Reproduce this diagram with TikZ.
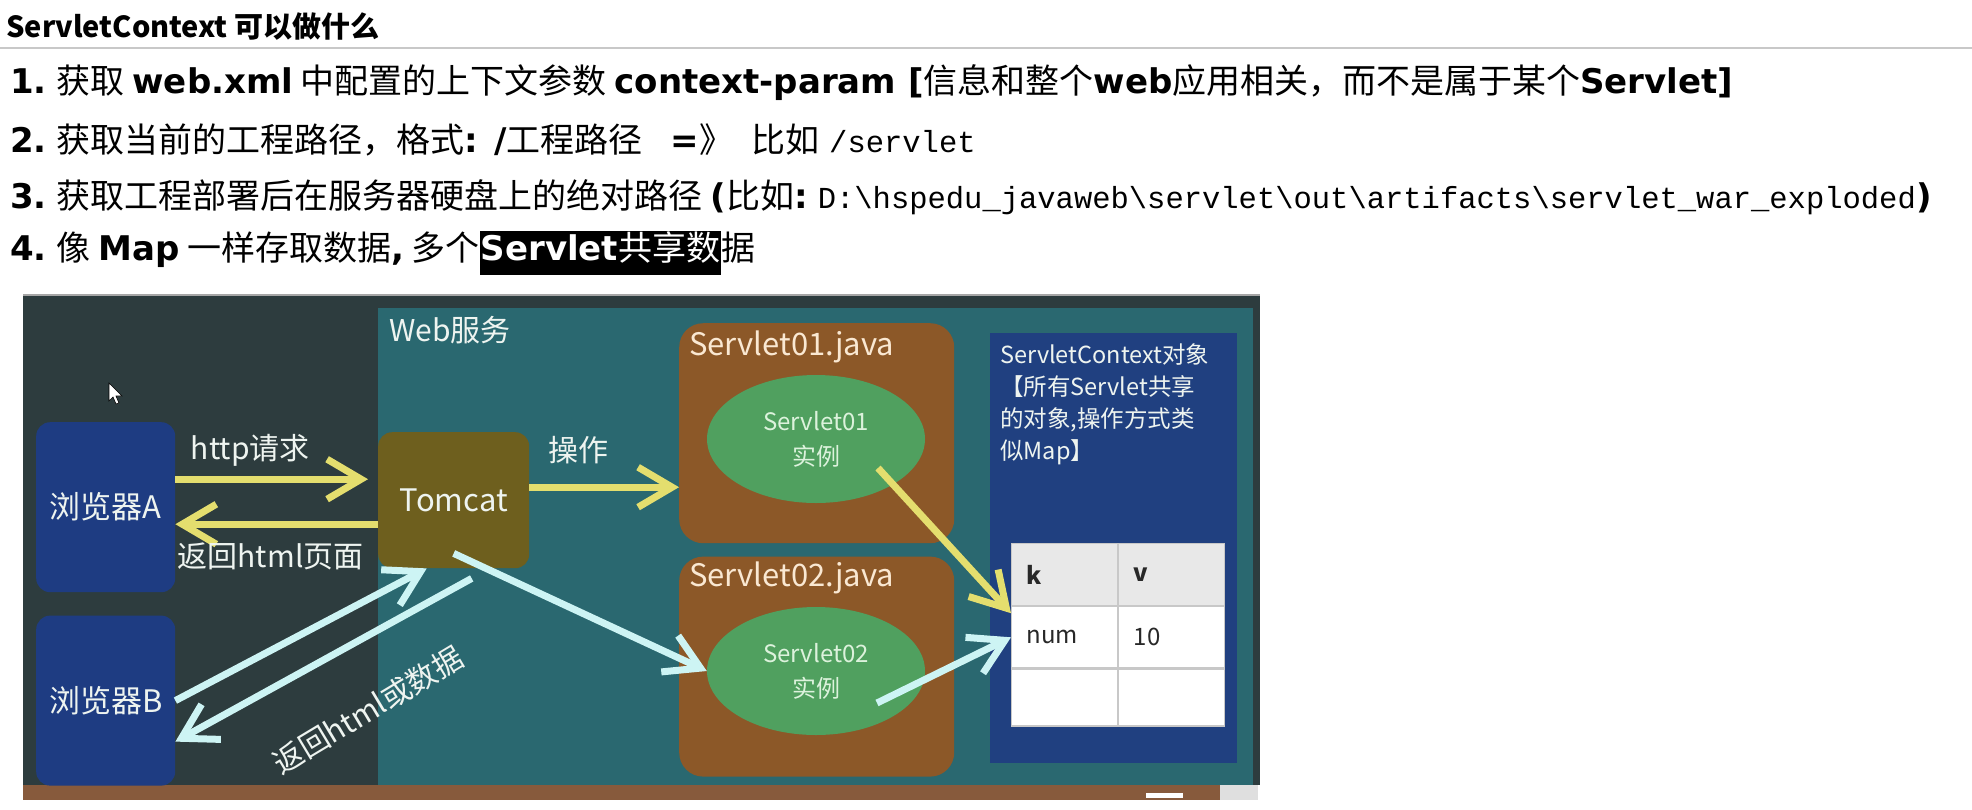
\documentclass[tikz,border=0pt]{standalone}
\usepackage{fontspec}
\setmainfont{Noto Sans CJK SC}
\newfontfamily\engfont{DejaVu Sans}[Scale=1.0]
\newfontfamily\codefont{Liberation Mono}
\usetikzlibrary{positioning,arrows.meta,shapes.geometric}
\definecolor{scBoard}{RGB}{45,60,62}
\definecolor{scTeal}{RGB}{42,104,112}
\definecolor{scClient}{RGB}{30,60,130}
\definecolor{scServer}{RGB}{110,95,30}
\definecolor{scJava}{RGB}{140,88,40}
\definecolor{scInst}{RGB}{80,160,95}
\definecolor{scCtx}{RGB}{32,64,128}
\definecolor{scYellow}{RGB}{228,222,110}
\definecolor{scCyan}{RGB}{205,244,244}
\definecolor{scText}{RGB}{238,244,240}
\definecolor{scPeach}{RGB}{250,232,210}
\definecolor{scMint}{RGB}{220,242,220}
\definecolor{scWood}{RGB}{135,90,60}
\definecolor{scRule}{RGB}{200,200,200}
\definecolor{scHead}{RGB}{232,232,232}
\definecolor{scInk}{RGB}{40,40,40}
\newcommand\latb[1]{{\engfont\bfseries #1}}
\newcommand\bs{\textbackslash}

\begin{document}
\begin{tikzpicture}[
    x=1pt, y=-1pt,
    textline/.style={anchor=west, inner sep=0pt, font=\fontsize{34}{40}\selectfont},
    client/.style={rectangle, rounded corners=14pt, fill=scClient, minimum width=139pt, minimum height=170pt, text=scText, font=\fontsize{31}{36}\selectfont},
    server/.style={rectangle, rounded corners=14pt, fill=scServer, minimum width=151pt, minimum height=136pt, text=scText, font=\fontsize{31}{36}\selectfont},
    javabox/.style={rectangle, rounded corners=24pt, fill=scJava, minimum width=275pt, minimum height=220pt},
    jlabel/.style={inner sep=0pt, text=scPeach, font=\fontsize{31}{36}\selectfont},
    inst/.style={ellipse, fill=scInst, minimum width=218pt, minimum height=128pt, inner sep=0pt, align=center, text=scMint, font=\fontsize{24}{35}\selectfont},
    ctxbox/.style={rectangle, fill=scCtx, minimum width=247pt, minimum height=430pt},
    cell/.style={draw=scRule, line width=1.2pt, fill=white, minimum height=61pt, text width=76pt, inner xsep=15pt, inner ysep=0pt, align=left, text=scInk, font=\fontsize{24}{28}\selectfont},
    note/.style={inner sep=0pt, text=scText, font=\fontsize{30}{34}\selectfont},
    yarrow/.style={draw=scYellow, line width=7pt, -{Straight Barb[length=34pt, width=40pt]}},
    carrow/.style={draw=scCyan, line width=7pt, -{Straight Barb[length=34pt, width=40pt]}}
]
  \fill[white] (0,0) rectangle (1972,809);
  \useasboundingbox (0,0) rectangle (1972,809);

  \node[anchor=west, inner sep=0pt, font=\fontsize{29}{32}\selectfont\bfseries] (title) at (6,27) {ServletContext 可以做什么};
  \draw[scRule, line width=2pt] (0,48) -- (1972,48);

  \node[textline] (l1) at (10,83) {\latb{1.} 获取 \latb{web.xml} 中配置的上下文参数 \latb{context-param [}信息和整个\latb{web}应用相关，而不是属于某个\latb{Servlet]}};
  \node[textline] (l2) at (10,140) {\latb{2.} 获取当前的工程路径，格式\latb{: /}工程路径\hspace{28pt}\latb{=}》\hspace{18pt}比如\hspace{10pt}{\codefont\fontsize{30.5}{36}\selectfont /servlet}};
  \node[textline] (l3) at (10,197) {\latb{3.} 获取工程部署后在服务器硬盘上的绝对路径 \latb{(}比如\latb{:} {\codefont\fontsize{30.5}{36}\selectfont D:\bs hspedu\_javaweb\bs servlet\bs out\bs artifacts\bs servlet\_war\_exploded}\latb{)}};
  \node[textline] (l4) at (10,253) {\latb{4.} 像 \latb{Map} 一样存取数据\latb{,} 多个{\setlength{\fboxsep}{1pt}\colorbox{black}{\rule[-14pt]{0pt}{40pt}\color{white}\latb{Servlet}共享数}}据};

  % board
  \fill[scBoard] (23,295) rectangle (1260,785);
  \draw[gray!70, line width=2pt] (23,295) -- (1260,295);
  \fill[scTeal] (378,308) rectangle (1253,785);
  \fill[scWood] (23,785) rectangle (1220,800);
  \fill[gray!25] (1220,785) rectangle (1258,800);
  \fill[white] (1146,793) rectangle (1183,798);
  \fill[white, draw=black, line width=0.6pt] (109,383) -- (109,401) -- (113,397) -- (116,404) -- (119,403) -- (116,396) -- (122,396) -- cycle;

  \node[note, anchor=west] (web) at (389,330) {Web服务};

  \node[client, anchor=north west] (brA) at (36,422) {浏览器A};
  \node[client, below=23pt of brA] (brB) {浏览器B};
  \node[server, anchor=north west] (tomcat) at (378,432) {Tomcat};

  \node[javabox, anchor=north west] (j1) at (679,323) {};
  \node[jlabel, anchor=west] (j1t) at ([shift={(10pt,-24pt)}]j1.north west) {Servlet01.java};
  \node[inst] (s1) at (816,439) {Servlet01\\实例};
  \node[javabox, below=13pt of j1] (j2) {};
  \node[jlabel, anchor=west] (j2t) at ([shift={(10pt,-22pt)}]j2.north west) {Servlet02.java};
  \node[inst] (s2) at (816,671) {Servlet02\\实例};

  \node[ctxbox, anchor=north west] (ctx) at (990,333) {};
  \node[note, anchor=north west, align=left, font=\fontsize{23.5}{32}\selectfont] (ctxt) at ([shift={(10pt,-10pt)}]ctx.north west) {ServletContext对象\\【所有Servlet共享\\的对象,操作方式类\\似Map】};

  \node[cell, fill=scHead, minimum height=62pt, anchor=north west, font=\fontsize{24}{28}\selectfont\bfseries] (kh) at (1011,543) {k};
  \node[cell, fill=scHead, minimum height=62pt, right=0pt of kh, font=\fontsize{24}{28}\selectfont\bfseries] (vh) {v};
  \node[cell, below=0pt of kh] (kn) {num};
  \node[cell, right=0pt of kn] (vn) {10};
  \node[cell, minimum height=57pt, below=0pt of kn] (ke) {};
  \node[cell, minimum height=57pt, right=0pt of ke] (ve) {};

  \draw[yarrow, shorten >=10pt] ([yshift=21pt]tomcat.west -| brA.east) -- node[note, pos=0.37, yshift=29pt] {http请求} ([yshift=21pt]tomcat.west);
  \draw[yarrow] ([yshift=-24pt]tomcat.west) -- node[note, pos=0.53, yshift=-32pt] {返回html页面} ([yshift=-24pt]tomcat.west -| brA.east);
  \draw[yarrow] ([yshift=13pt]tomcat.east) -- node[note, pos=0.33, yshift=37pt] {操作} ([yshift=13pt]tomcat.east -| j1.west);
  \draw[carrow] (brB.east) -- ([xshift=-27pt]tomcat.south);
  \draw[carrow] ([shift={(18pt,-10pt)}]tomcat.south) -- ([yshift=-41pt]brB.east);
  \node[note, rotate=31] (retB) at (368,710) {返回html或数据};
  \draw[carrow] ([yshift=15pt]tomcat.south) -- (s2.west);
  \draw[yarrow] ([shift={(62pt,-29pt)}]s1.center) -- ([yshift=-7pt]kn.north west);
  \draw[carrow] ([shift={(61pt,-32pt)}]s2.center) -- (kn.west);
\end{tikzpicture}
\end{document}
